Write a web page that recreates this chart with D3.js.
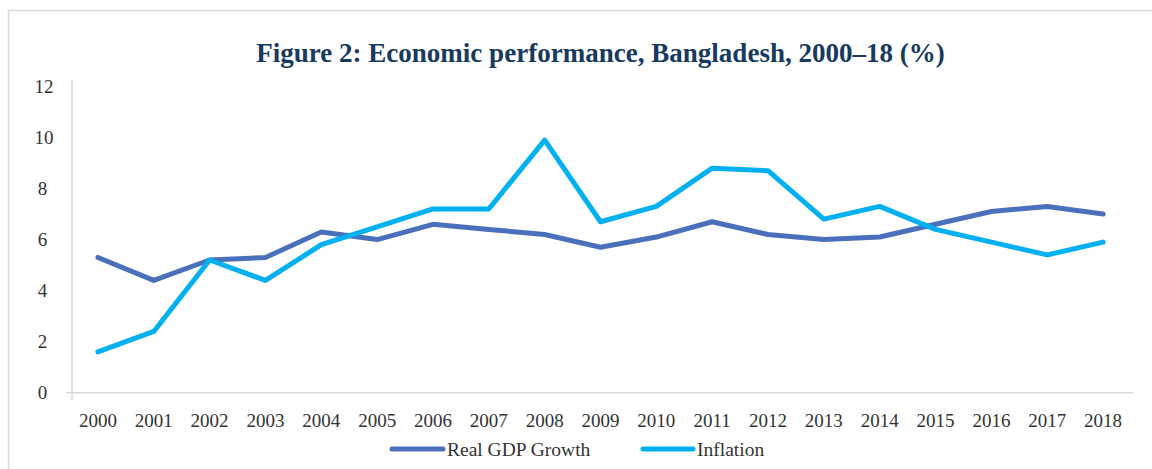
<!DOCTYPE html>
<html>
<head>
<meta charset="utf-8">
<script src="https://cdn.jsdelivr.net/npm/d3@7"></script>
<style>
  html, body { margin: 0; padding: 0; background: #ffffff; }
  svg { display: block; }
  text { font-family: "Liberation Serif", "DejaVu Serif", serif; }
</style>
</head>
<body>
<svg id="chart" width="1152" height="469"></svg>
<script>
// Bangladesh, 2000–18, annual % values
const years = ["2000","2001","2002","2003","2004","2005","2006","2007","2008","2009",
               "2010","2011","2012","2013","2014","2015","2016","2017","2018"];
const gdpGrowth = [5.3, 4.4, 5.2, 5.3, 6.3, 6.0, 6.6, 6.4, 6.2, 5.7,
                   6.1, 6.7, 6.2, 6.0, 6.1, 6.6, 7.1, 7.3, 7.0];
const inflation = [1.6, 2.4, 5.2, 4.4, 5.8, 6.5, 7.2, 7.2, 9.9, 6.7,
                   7.3, 8.8, 8.7, 6.8, 7.3, 6.4, 5.9, 5.4, 5.9];
const yTicks = [0, 2, 4, 6, 8, 10, 12];
const seriesNames = ["Real GDP Growth", "Inflation"];
const seriesColors = ["#4a70bb", "#00b0f0"];
const titleText = "Figure 2: Economic performance, Bangladesh, 2000–18 (%)";

const svg = d3.select("#chart");

// outer frame
svg.append("rect")
  .attr("x", 8.5).attr("y", 10.5)
  .attr("width", 1300).attr("height", 600)
  .attr("fill", "none").attr("stroke", "#d9d9d9").attr("stroke-width", 1.5);

// title, sized to span its line
const title = svg.append("text")
  .attr("x", 600.5).attr("y", 62)
  .attr("text-anchor", "middle")
  .attr("font-weight", "bold")
  .attr("fill", "#173a5e")
  .attr("font-size", 100)
  .text(titleText);
const tw = title.node().getComputedTextLength();
title.attr("font-size", 100 * 689 / tw);

const x = d3.scaleBand().domain(years).range([70, 1131]);
const y = d3.scaleLinear().domain([0, 12]).range([392.7, 86.5]);
const cx = d => x(d) + x.bandwidth() / 2;

// axes lines
svg.append("line")
  .attr("x1", 72).attr("x2", 72).attr("y1", 80).attr("y2", 400)
  .attr("stroke", "#d9d9d9").attr("stroke-width", 1.5);
svg.append("line")
  .attr("x1", 66.5).attr("x2", 1133).attr("y1", y(0)).attr("y2", y(0))
  .attr("stroke", "#d9d9d9").attr("stroke-width", 1.5);

// y tick labels
svg.append("g").selectAll("text").data(yTicks).join("text")
  .attr("x", d => d >= 10 ? 44 : 42.5)
  .attr("y", d => y(d))
  .attr("dy", "0.35em")
  .attr("text-anchor", "middle")
  .attr("font-size", 19)
  .attr("fill", "#333333")
  .text(d => d);

// x tick labels
svg.append("g").selectAll("text").data(years).join("text")
  .attr("x", d => cx(d))
  .attr("y", 427)
  .attr("text-anchor", "middle")
  .attr("font-size", 19)
  .attr("fill", "#333333")
  .text(d => d);

// series lines
const line = d3.line()
  .x((d, i) => cx(years[i]))
  .y(d => y(d));

[gdpGrowth, inflation].forEach((vals, k) => {
  svg.append("path")
    .datum(vals)
    .attr("d", line)
    .attr("fill", "none")
    .attr("stroke", seriesColors[k])
    .attr("stroke-width", 5)
    .attr("stroke-linejoin", "round")
    .attr("stroke-linecap", "round");
});

// legend
const legendItems = [
  { x0: 392, x1: 443, tx: 447 },
  { x0: 643, x1: 693, tx: 697 }
];
legendItems.forEach((it, k) => {
  svg.append("line")
    .attr("x1", it.x0).attr("x2", it.x1)
    .attr("y1", 449).attr("y2", 449)
    .attr("stroke", seriesColors[k])
    .attr("stroke-width", 5)
    .attr("stroke-linecap", "round");
  svg.append("text")
    .attr("x", it.tx).attr("y", 455.5)
    .attr("font-size", 19.5)
    .attr("fill", "#333333")
    .text(seriesNames[k]);
});
</script>
</body>
</html>
